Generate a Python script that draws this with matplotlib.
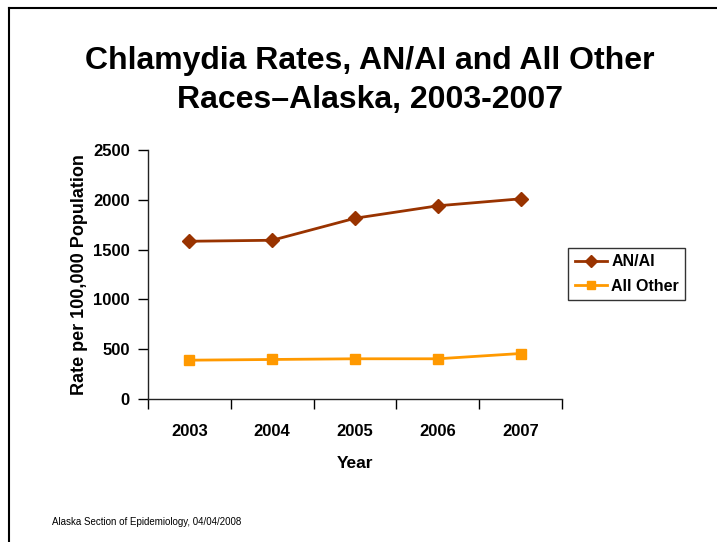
import matplotlib.pyplot as plt
from matplotlib.lines import Line2D

plt.rcParams['font.family'] = ['Liberation Sans', 'DejaVu Sans']

# %% data
years = ['2003', '2004', '2005', '2006', '2007']
anai = [1584, 1594, 1815, 1940, 2010]
all_other = [390, 397, 404, 404, 457]

# %% figure
fig = plt.figure(figsize=[7.17, 5.42], dpi=100)
ax = fig.add_axes([0.2064, 0.2638, 0.5774, 0.4594])

x = list(range(len(years)))
ax.plot(x, anai, color='#993300', marker='D', markersize=7.5, linewidth=2,
        label='AN/AI')
ax.plot(x, all_other, color='#FF9900', marker='s', markersize=7.5, linewidth=2,
        label='All Other')

ax.set_xlim(-0.5, 4.5)
ax.set_ylim(0, 2500)
ax.set_yticks([0, 500, 1000, 1500, 2000, 2500])

# tick marks between categories, labels at the centres
ax.set_xticks([i - 0.5 for i in range(len(years) + 1)])
ax.set_xticklabels([])
ax.set_xticks(x, minor=True)
ax.set_xticklabels(years, minor=True)
ax.tick_params(axis='x', which='major', direction='out', length=7, width=1)
ax.tick_params(axis='x', which='minor', length=0, pad=18)
ax.tick_params(axis='y', direction='out', length=7, width=1, pad=6)
for lab in ax.get_xticklabels(minor=True) + ax.get_yticklabels():
    lab.set_fontweight('bold')
    lab.set_fontsize(12)

for s in ['top', 'right']:
    ax.spines[s].set_visible(False)
for s in ['left', 'bottom']:
    ax.spines[s].set_color('#222222')
    ax.spines[s].set_linewidth(1)

ax.set_xlabel('Year', fontsize=12.5, fontweight='bold', labelpad=12)
ax.set_ylabel('Rate per 100,000 Population', fontsize=13, fontweight='bold',
              labelpad=4)

leg = ax.legend(loc='center left', bbox_to_anchor=(1.015, 0.502), frameon=True,
                fancybox=False, edgecolor='black', fontsize=11.5,
                handlelength=2.0, handletextpad=0.3, borderpad=0.4,
                labelspacing=0.6, borderaxespad=0, markerscale=0.75)
leg.get_frame().set_linewidth(1)
for t in leg.get_texts():
    t.set_fontweight('bold')

fig.text(0.516, 0.852, 'Chlamydia Rates, AN/AI and All Other\nRaces\u2013Alaska, 2003-2007',
         ha='center', va='center', fontsize=23, fontweight='bold',
         linespacing=1.4)
fig.text(0.073, 0.037, 'Alaska Section of Epidemiology, 04/04/2008',
         fontsize=7, ha='left', va='center')

# slide border
fig.add_artist(Line2D([8.5 / 717, 8.5 / 717], [0, 1 - 7.5 / 542],
                      transform=fig.transFigure, color='black', linewidth=1.5))
fig.add_artist(Line2D([8.5 / 717, 1], [1 - 7.5 / 542, 1 - 7.5 / 542],
                      transform=fig.transFigure, color='black', linewidth=1.5))

fig.savefig('out.png', dpi=100)
